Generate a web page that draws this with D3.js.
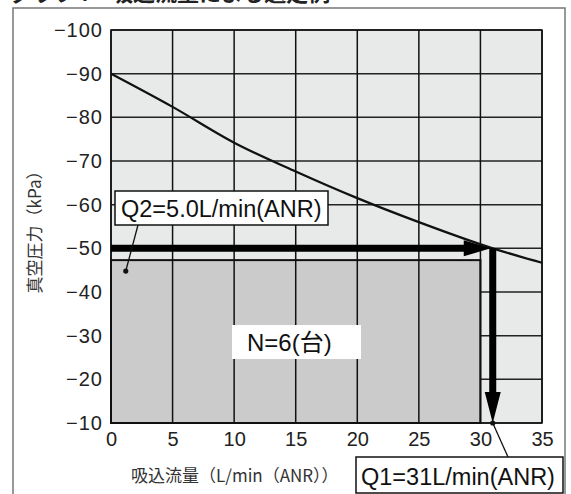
<!DOCTYPE html>
<html>
<head>
<meta charset="utf-8">
<script src="https://cdn.jsdelivr.net/npm/d3@7"></script>
<style>
  body { margin: 0; background: #fff; }
  svg { display: block; font-family: "Liberation Sans", Arial, "Noto Sans CJK JP", sans-serif; }
</style>
</head>
<body>
<svg id="chart" width="571" height="494"></svg>
<script>
// curve
var flowValues = [0, 5, 10, 15, 20, 25, 31, 35];
var pressureValues = [-90, -82.4, -74.2, -67.6, -61.5, -56, -50, -46.7];
var xTicks = [0, 5, 10, 15, 20, 25, 30, 35];
var yTicks = [-100, -90, -80, -70, -60, -50, -40, -30, -20, -10];

// selection example values
var blockFlow = 30;        // 6 units x 5.0 L/min
var blockPressure = -47.3;
var q1Flow = 31;
var q2Pressure = -50;
var q2Marker = [1.2, -44.8];

var titleText = "グラフ4　吸込流量による選定例";
var xLabel = "吸込流量（L/min（ANR））";
var yLabel = "真空圧力（kPa）";
var q1Text = "Q1=31L/min(ANR)";
var q2Text = "Q2=5.0L/min(ANR)";
var nText = "N=6(台)";

function drawChart() {
  var svg = d3.select("#chart");
  var left = 111, right = 542, top = 30, bottom = 423;

  var x = d3.scaleLinear().domain([0, 35]).range([left, right]);
  var y = d3.scaleLinear().domain([-100, -10]).range([top, bottom]);

  // title (cut off by the top edge, as in the scan)
  svg.append("text")
      .attr("x", 10)
      .attr("y", 1)
      .attr("font-family", "Noto Sans CJK JP")
      .attr("font-size", "22px")
      .attr("font-weight", "bold")
      .attr("fill", "#222")
      .text(titleText);

  // outer frame
  svg.append("rect")
      .attr("x", 13).attr("y", 8)
      .attr("width", 552).attr("height", 520)
      .attr("fill", "none")
      .attr("stroke", "#777")
      .attr("stroke-width", 1.5);

  // plot background
  svg.append("rect")
      .attr("x", left).attr("y", top)
      .attr("width", right - left).attr("height", bottom - top)
      .attr("fill", "#e8e9e9");

  // horizontal grid
  svg.append("g")
      .selectAll("line")
      .data(yTicks)
      .enter()
      .append("line")
      .attr("x1", left).attr("x2", right)
      .attr("y1", d => y(d)).attr("y2", d => y(d))
      .attr("stroke", "#222")
      .attr("stroke-width", 1.5);

  // block of 6 units
  svg.append("rect")
      .attr("x", x(0))
      .attr("y", y(blockPressure))
      .attr("width", x(blockFlow) - x(0))
      .attr("height", y(-10) - y(blockPressure))
      .attr("fill", "#cbcbcb")
      .attr("stroke", "#111")
      .attr("stroke-width", 2);

  // vertical grid
  svg.append("g")
      .selectAll("line")
      .data(xTicks)
      .enter()
      .append("line")
      .attr("x1", d => x(d)).attr("x2", d => x(d))
      .attr("y1", top).attr("y2", bottom)
      .attr("stroke", "#111")
      .attr("stroke-width", 1.5);

  svg.append("rect")
      .attr("x", left).attr("y", top)
      .attr("width", right - left).attr("height", bottom - top)
      .attr("fill", "none")
      .attr("stroke", "#111")
      .attr("stroke-width", 1.5);

  // axes
  var yAxis = svg.append("g")
      .attr("transform", "translate(" + left + ",0)")
      .call(d3.axisLeft(y).tickValues(yTicks).tickSize(0).tickPadding(8)
            .tickFormat(d => "−" + Math.abs(d)));
  var xAxis = svg.append("g")
      .attr("transform", "translate(0," + bottom + ")")
      .call(d3.axisBottom(x).tickValues(xTicks).tickSize(0).tickPadding(9));
  [xAxis, yAxis].forEach(function(a) {
    a.select(".domain").remove();
    a.selectAll("text")
        .attr("font-family", "Liberation Sans, Arial, sans-serif")
        .attr("font-size", "20px")
        .attr("fill", "#222");
  });
  yAxis.selectAll("text").attr("letter-spacing", "1px");

  svg.append("text")
      .attr("transform", "translate(41," + 228 + ") rotate(-90)")
      .attr("font-family", "Noto Sans CJK JP")
      .attr("font-size", "17px")
      .attr("fill", "#333")
      .style("text-anchor", "middle")
      .text(yLabel);

  svg.append("text")
      .attr("x", 131)
      .attr("y", 482)
      .attr("font-family", "Noto Sans CJK JP")
      .attr("font-size", "17px")
      .attr("fill", "#333")
      .text(xLabel);

  // curve
  var line = d3.line()
      .x(d => x(d[0]))
      .y(d => y(d[1]))
      .curve(d3.curveMonotoneX);
  svg.append("path")
      .datum(flowValues.map((f, i) => [f, pressureValues[i]]))
      .attr("d", line)
      .attr("fill", "none")
      .attr("stroke", "#111")
      .attr("stroke-width", 2.2);

  // horizontal arrow at Q2 pressure to the operating point
  var hy = y(q2Pressure), hx0 = x(0), hx1 = x(q1Flow) - 2;
  svg.append("path")
      .attr("d", "M" + hx0 + "," + (hy - 3.5) + "H" + (hx1 - 27) + "V" + (hy - 8) +
                 "L" + hx1 + "," + hy + "L" + (hx1 - 27) + "," + (hy + 8) +
                 "V" + (hy + 3.5) + "H" + hx0 + "Z")
      .attr("fill", "#000");

  // vertical arrow down to Q1
  var vx = x(q1Flow), vy0 = y(q2Pressure), vy1 = y(-10);
  svg.append("path")
      .attr("d", "M" + (vx - 3.5) + "," + vy0 + "V" + (vy1 - 31) + "H" + (vx - 8) +
                 "L" + vx + "," + vy1 + "L" + (vx + 8) + "," + (vy1 - 31) +
                 "H" + (vx + 3.5) + "V" + vy0 + "Z")
      .attr("fill", "#000");

  // Q2 callout
  svg.append("line")
      .attr("x1", x(q2Marker[0])).attr("y1", y(q2Marker[1]))
      .attr("x2", 138).attr("y2", 225)
      .attr("stroke", "#111").attr("stroke-width", 1.3);
  svg.append("circle")
      .attr("cx", x(q2Marker[0])).attr("cy", y(q2Marker[1]))
      .attr("r", 2.6).attr("fill", "#111");
  svg.append("rect")
      .attr("x", 115).attr("y", 191)
      .attr("width", 213).attr("height", 34)
      .attr("fill", "#fff").attr("stroke", "#111").attr("stroke-width", 1.5);
  svg.append("text")
      .attr("x", 121).attr("y", 217)
      .attr("font-size", "23.5px").attr("fill", "#111")
      .text(q2Text);

  // N label
  svg.append("rect")
      .attr("x", 232).attr("y", 325)
      .attr("width", 129).attr("height", 34)
      .attr("fill", "#fff");
  svg.append("text")
      .attr("x", 247).attr("y", 351)
      .attr("font-size", "24px").attr("fill", "#111")
      .text(nText);

  // Q1 callout
  svg.append("line")
      .attr("x1", x(q1Flow)).attr("y1", y(-10))
      .attr("x2", 508).attr("y2", 457)
      .attr("stroke", "#111").attr("stroke-width", 1.3);
  svg.append("circle")
      .attr("cx", x(q1Flow)).attr("cy", y(-10))
      .attr("r", 2.6).attr("fill", "#111");
  svg.append("rect")
      .attr("x", 356).attr("y", 457)
      .attr("width", 207).attr("height", 36)
      .attr("fill", "#fff").attr("stroke", "#111").attr("stroke-width", 1.5);
  svg.append("text")
      .attr("x", 361).attr("y", 485)
      .attr("font-size", "23.5px").attr("fill", "#111")
      .text(q1Text);
}

drawChart();
</script>
</body>
</html>
